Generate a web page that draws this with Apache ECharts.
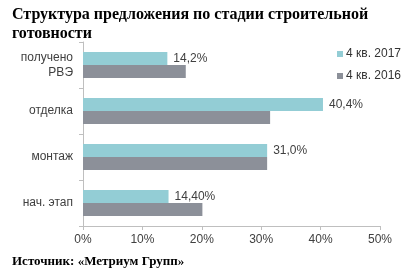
<!DOCTYPE html>
<html>
<head>
<meta charset="utf-8">
<script src="https://cdn.jsdelivr.net/npm/echarts@6/dist/echarts.min.js"></script>
<style>
html,body{margin:0;padding:0;background:#fff;}
#c{width:412px;height:273px;}
</style>
</head>
<body>
<div id="c"></div>
<script>
var categories = ['нач. этап', 'монтаж', 'отделка', 'получено\nРВЭ'];
var values2017 = [14.4, 31.0, 40.4, 14.2];
var labels2017 = ['14,40%', '31,0%', '40,4%', '14,2%'];
var values2016 = [20.1, 31.0, 31.5, 17.3];
var tickLabels = ['0%', '10%', '20%', '30%', '40%', '50%'];
var seriesNames = ['4 кв. 2017', '4 кв. 2016'];

var chart = echarts.init(document.getElementById('c'), null, {renderer: 'canvas'});
chart.setOption({
  animation: false,
  backgroundColor: '#ffffff',
  title: [
    {
      text: 'Структура предложения по стадии строительной\nготовности',
      left: 7, top: 0,
      textStyle: {fontFamily: 'Liberation Serif', fontWeight: 'bold', fontSize: 16, color: '#000000', lineHeight: 19}
    },
    {
      text: 'Источник: «Метриум Групп»',
      left: 7, top: 250,
      textStyle: {fontFamily: 'Liberation Serif', fontWeight: 'bold', fontSize: 13, color: '#000000'}
    }
  ],
  legend: {
    data: seriesNames,
    orient: 'vertical',
    left: 332, top: 43,
    itemWidth: 6, itemHeight: 6, itemGap: 10,
    icon: 'rect',
    textStyle: {fontFamily: 'Liberation Sans', fontSize: 12, color: '#333333', padding: [0,0,0,-2]}
  },
  grid: {left: 83, right: 32, top: 42, bottom: 47},
  xAxis: {
    type: 'value', min: 0, max: 50, interval: 10,
    axisLine: {show: true, lineStyle: {color: '#bfbfbf'}},
    axisTick: {show: true, length: 4, lineStyle: {color: '#bfbfbf'}},
    splitLine: {show: false},
    axisLabel: {
      color: '#404040', fontFamily: 'Liberation Sans', fontSize: 12, margin: 8,
      formatter: function (v) { return tickLabels[Math.round(v / 10)]; }
    }
  },
  yAxis: {
    type: 'category', data: categories,
    axisLine: {show: true, lineStyle: {color: '#bfbfbf'}},
    axisTick: {show: true, length: 4, lineStyle: {color: '#bfbfbf'}},
    axisLabel: {color: '#404040', fontFamily: 'Liberation Sans', fontSize: 12, margin: 10, lineHeight: 15}
  },
  series: [
    {
      name: seriesNames[0], type: 'bar', data: values2017,
      barWidth: 13, barGap: '0%',
      itemStyle: {color: '#93cdd5'},
      label: {
        show: true, position: 'right', distance: 6,
        color: '#404040', fontFamily: 'Liberation Sans', fontSize: 12,
        formatter: function (p) { return labels2017[p.dataIndex]; }
      }
    },
    {
      name: seriesNames[1], type: 'bar', data: values2016,
      barWidth: 13, barGap: '0%',
      itemStyle: {color: '#8c9099'}
    }
  ]
});
</script>
</body>
</html>
